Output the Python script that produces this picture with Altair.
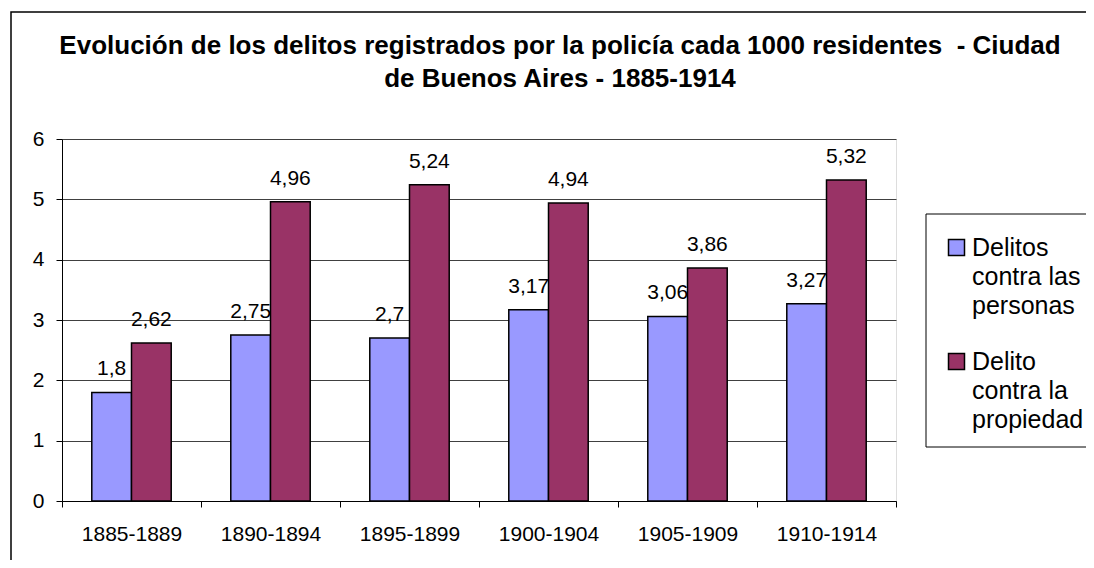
import altair as alt
import pandas as pd

periodos = ["1885-1889", "1890-1894", "1895-1899", "1900-1904", "1905-1909", "1910-1914"]
series = ["Delitos contra las personas", "Delito contra la propiedad"]
personas = [1.8, 2.75, 2.7, 3.17, 3.06, 3.27]
propiedad = [2.62, 4.96, 5.24, 4.94, 3.86, 5.32]
colores = ["#9999FF", "#993366"]
legend_text = ["Delitos\ncontra las\npersonas", "Delito\ncontra la\npropiedad"]
y_ticks = [0, 1, 2, 3, 4, 5, 6]
titulo = ["Evolución de los delitos registrados por la policía cada 1000 residentes\u00a0 - Ciudad",
          "de Buenos Aires - 1885-1914"]

rows = []
for p, a, b in zip(periodos, personas, propiedad):
    rows.append({"periodo": p, "serie": series[0], "valor": a})
    rows.append({"periodo": p, "serie": series[1], "valor": b})
df = pd.DataFrame(rows)
legend_df = pd.DataFrame({"serie": series, "texto": legend_text})
one = pd.DataFrame({"a": [0]})
title_df = pd.DataFrame({"t": ["\n".join(titulo)]})

FONT = "Liberation Sans"

color = alt.Color("serie:N", scale=alt.Scale(domain=series, range=colores), legend=None)
xenc = alt.X(
    "periodo:N", sort=periodos,
    scale=alt.Scale(paddingInner=0, paddingOuter=0),
    axis=alt.Axis(title=None, labelAngle=0, labelFontSize=21, labelFont=FONT, labelColor="black",
                  tickBand="extent", tickSize=6, tickColor="black", domainColor="black",
                  labelPadding=16, grid=False),
)
xoff = alt.XOffset("serie:N", sort=series,
                   scale=alt.Scale(domain=series, paddingInner=0, paddingOuter=0.75))
yscale = alt.Scale(domain=[0, 6], nice=False, zero=True)

bars = alt.Chart(df).mark_bar(stroke="black", strokeWidth=1.5).encode(
    x=xenc, xOffset=xoff,
    y=alt.Y("valor:Q", scale=yscale,
            axis=alt.Axis(title=None, values=y_ticks, grid=True, gridColor="#404040",
                          tickSize=6, tickColor="black", domainColor="black",
                          labelFontSize=21, labelFont=FONT, labelColor="black", labelPadding=12)),
    color=color,
)

labels = alt.Chart(df).transform_calculate(
    etq="replace(toString(datum.valor), '.', ',')"
).mark_text(baseline="alphabetic", dy=-17, fontSize=21, font=FONT, color="black").encode(
    x=xenc, xOffset=xoff,
    y=alt.Y("valor:Q", scale=yscale, axis=None),
    text="etq:N",
)

frame = alt.Chart(one).mark_rect(fillOpacity=0, stroke="black", strokeWidth=1.5).encode(
    x=alt.value(-51), x2=alt.value(1300), y=alt.value(-127), y2=alt.value(800)
)
legend_box = alt.Chart(one).mark_rect(fillOpacity=0, stroke="black", strokeWidth=1).encode(
    x=alt.value(864), x2=alt.value(1300), y=alt.value(75), y2=alt.value(308)
)

title_mark = alt.Chart(title_df).mark_text(
    align="center", baseline="alphabetic", lineBreak="\n", lineHeight=33,
    fontSize=26, fontWeight="bold", font=FONT, color="black"
).encode(x=alt.value(498), y=alt.value(-85), text="t:N")

squares = alt.Chart(legend_df).mark_square(size=256, stroke="black", strokeWidth=1.5, opacity=1).encode(
    x=alt.value(894.5),
    y=alt.Y("serie:N", sort=series,
            scale=alt.Scale(type="point", domain=series, range=[108.5, 222.5], padding=0), axis=None),
    color=color,
)
legtext = alt.Chart(legend_df).mark_text(
    align="left", baseline="alphabetic", lineBreak="\n", lineHeight=29,
    fontSize=25, font=FONT, color="black"
).encode(
    x=alt.value(910),
    y=alt.Y("serie:N", sort=series,
            scale=alt.Scale(type="point", domain=series, range=[117, 231], padding=0), axis=None),
    text="texto:N",
)

chart = alt.layer(frame, legend_box, title_mark, bars, labels, squares, legtext).resolve_scale(
    y="independent"
).properties(
    width=834, height=362,
    autosize=alt.AutoSizeParams(type="none"),
    padding={"left": 54, "top": 131, "right": 190, "bottom": 59},
).configure_view(stroke="#808080", strokeWidth=1).configure(font=FONT, background="white")

chart.save("out.html", embed_options={"renderer": "svg", "actions": False})
